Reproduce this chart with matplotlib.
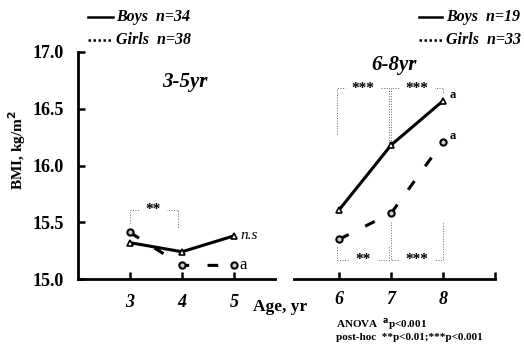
import matplotlib
matplotlib.use("Agg")
import matplotlib.pyplot as plt
from matplotlib.lines import Line2D

plt.rcParams['font.family'] = ['Liberation Serif', 'DejaVu Serif']
plt.rcParams['font.weight'] = 'bold'

# Data
ages_young = [3, 4, 5]
boys_young = [15.32, 15.24, 15.38]
girls_young = [15.41, 15.12, 15.12]
ages_old = [6, 7, 8]
boys_old = [15.61, 16.18, 16.57]
girls_old = [15.35, 15.58, 16.21]
yticks = [15.0, 15.5, 16.0, 16.5, 17.0]
legend_young = ["Boys  n=34", "Girls  n=38"]
legend_old = ["Boys  n=19", "Girls  n=33"]

W, H = 524, 346
fig = plt.figure(figsize=(W / 100, H / 100), dpi=100)

def fx(px):
    return px / W

def fy(py):
    return 1 - py / H

bottom = fy(279)
height = fy(52) - fy(279)
axL = fig.add_axes([fx(78), bottom, fx(275) - fx(78), height])
axR = fig.add_axes([fx(294), bottom, fx(495) - fx(294), height])

dash = (0, (3.5, 6))
for ax, ages, boys, girls, xlim in [
    (axL, ages_young, boys_young, girls_young, (2.0, 5.79)),
    (axR, ages_old, boys_old, girls_old, (5.13, 9.0)),
]:
    ax.plot(ages, boys, color='black', lw=2.2, marker='^', ms=4.5,
            mfc='white', mec='black', mew=1.2, zorder=3)
    ax.plot(ages, girls, color='black', lw=2.2, linestyle=dash, marker='o',
            ms=4.5, mfc='#cccccc', mec='black', mew=1.5, zorder=3)
    ax.set_xlim(*xlim)
    ax.set_ylim(15.0, 17.0)
    for s in ['top', 'right']:
        ax.spines[s].set_visible(False)
    ax.spines['bottom'].set_linewidth(2.0)
    ax.spines['left'].set_linewidth(2.0)
    ax.tick_params(axis='both', direction='in', length=5, width=1.8)
    ax.patch.set_alpha(0)

axL.set_xticks(ages_young)
axL.set_xticklabels([str(a) for a in ages_young], fontsize=13,
                    fontstyle='italic', fontweight='bold')
axL.tick_params(axis='x', pad=11)
axL.set_yticks(yticks)
axL.set_yticklabels([f"{v:.1f}" for v in yticks], fontsize=13, fontweight='bold')
axL.tick_params(axis='y', pad=10)

axR.spines['left'].set_visible(False)
axR.set_yticks([])
axR.set_xticks(ages_old + [9])
axR.set_xticklabels([str(a) for a in ages_old] + [''], fontsize=13,
                    fontstyle='italic', fontweight='bold')
axR.tick_params(axis='x', pad=9)

fig.text(fx(17), fy(150), "BMI, kg/m$^\\mathbf{2}$", fontsize=11,
         fontweight='bold', rotation=90, ha='center', va='center')

# brackets (dotted grey)
bk = dict(color='#666666', lw=0.7, linestyle=':', clip_on=False)
axL.plot([3, 3, 3.93, 3.93], [15.49, 15.61, 15.61, 15.45], **bk)
axL.text(3.45, 15.61, "**", ha='center', va='center', fontsize=11,
         backgroundcolor='white')
axR.plot([5.95, 5.95, 6.95, 6.95], [16.28, 16.68, 16.68, 16.16], **bk)
axR.text(6.45, 16.68, "***", ha='center', va='center', fontsize=11,
         backgroundcolor='white')
axR.plot([7.0, 7.0, 8.0, 8.0], [16.2, 16.68, 16.68, 16.63], **bk)
axR.text(7.5, 16.68, "***", ha='center', va='center', fontsize=11,
         backgroundcolor='white')
axR.plot([5.95, 5.95, 6.95, 6.95], [15.28, 15.17, 15.17, 15.29], **bk)
axR.text(6.45, 15.17, "**", ha='center', va='center', fontsize=11,
         backgroundcolor='white')
axR.plot([7.0, 7.0, 8.0, 8.0], [15.5, 15.17, 15.17, 15.5], **bk)
axR.text(7.5, 15.17, "***", ha='center', va='center', fontsize=11,
         backgroundcolor='white')

# point annotations
axL.text(5.12, boys_young[2], "n.s", fontsize=11, fontstyle='italic',
         fontweight='normal', va='center')
axL.text(5.1, girls_young[2], "a", fontsize=12, fontweight='normal', va='center')
axR.text(8.12, boys_old[2] + 0.05, "a", fontsize=9, va='center')
axR.text(8.12, girls_old[2] + 0.05, "a", fontsize=9, va='center')

# panel titles
fig.text(fx(185), fy(82), "3-5yr", fontsize=15, fontstyle='italic',
         fontweight='bold', ha='center', va='center')
fig.text(fx(394), fy(65), "6-8yr", fontsize=15, fontstyle='italic',
         fontweight='bold', ha='center', va='center')

# legends
def legend(x0, x1, xt, labels):
    for i, lab in enumerate(labels):
        y = fy(17 + 23 * i)
        ls = '-' if i == 0 else (0, (1, 1))
        fig.add_artist(Line2D([fx(x0), fx(x1)], [y, y], color='black',
                              lw=1.8, linestyle=ls))
        fig.text(fx(xt), y, lab, fontsize=11.5, fontstyle='italic',
                 fontweight='bold', va='center', ha='left')

legend(88, 113, 116, legend_young)
legend(419, 442, 446, legend_old)

# x label and notes
fig.text(fx(253), fy(307), "Age, yr", fontsize=12.5, fontweight='bold',
         va='center', ha='left')
fig.text(fx(336), fy(324), "ANOVA  $^{\\mathbf{a}}$p<0.001", fontsize=8,
         fontweight='bold', va='center', ha='left')
fig.text(fx(336), fy(338), "post-hoc  **p<0.01;***p<0.001", fontsize=8,
         fontweight='bold', va='center', ha='left')

fig.savefig("out.png", dpi=100)
